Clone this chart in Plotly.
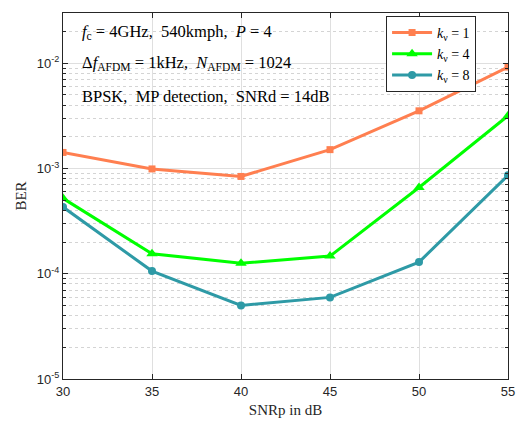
import plotly.graph_objects as go

snr = [30, 35, 40, 45, 50, 55]
ber_k1 = [1.42e-3, 9.9e-4, 8.4e-4, 1.51e-3, 3.53e-3, 9.2e-3]
ber_k4 = [5.2e-4, 1.55e-4, 1.26e-4, 1.47e-4, 6.6e-4, 3.17e-3]
ber_k8 = [4.3e-4, 1.06e-4, 5.0e-5, 5.96e-5, 1.29e-4, 8.6e-4]
series_names = ["<i>k</i><sub>ν</sub> = 1", "<i>k</i><sub>ν</sub> = 4", "<i>k</i><sub>ν</sub> = 8"]
colors = ["#FF7F50", "#00FF00", "#2E9AA6"]
symbols = ["square", "triangle-up", "circle"]
msizes = [7, 10, 8]

x_ticks = [30, 35, 40, 45, 50, 55]
y_major = [1e-5, 1e-4, 1e-3, 1e-2]
y_major_text = ["10<sup>-5</sup>", "10<sup>-4</sup>", "10<sup>-3</sup>", "10<sup>-2</sup>"]
y_minor = [m * 10.0**e for e in range(-5, -1) for m in range(2, 10) if m * 10.0**e <= 0.03]

annot_lines = [
    "<i>f</i><sub>c</sub> = 4GHz,  540kmph,  <i>P</i> = 4",
    "Δ<i>f</i><sub>AFDM</sub> = 1kHz,  <i>N</i><sub>AFDM</sub> = 1024",
    "BPSK,  MP detection,  SNRd = 14dB",
]

fig = go.Figure()
for ys, name, c, s, ms in zip([ber_k1, ber_k4, ber_k8], series_names, colors, symbols, msizes):
    fig.add_trace(go.Scatter(x=snr, y=ys, name=name, mode="lines+markers",
                             line=dict(color=c, width=3),
                             marker=dict(symbol=s, size=ms, color=c)))

axis_common = dict(showline=True, linecolor="#262626", linewidth=1, mirror="ticks",
                   ticks="inside", ticklen=5, tickcolor="#262626",
                   tickfont=dict(family="Liberation Sans, Arial", size=13, color="#262626"),
                   zeroline=False)

fig.update_xaxes(range=[30, 55], tickvals=x_ticks, showgrid=True, gridcolor="#DFDFDF", gridwidth=1,
                 title=dict(text="SNRp in dB", font=dict(family="Liberation Serif, Times New Roman", size=15, color="#262626"), standoff=6),
                 **axis_common)
fig.update_yaxes(type="log", range=[-5, -1.523], tickvals=y_major, ticktext=y_major_text,
                 showgrid=True, gridcolor="#DFDFDF", gridwidth=1,
                 minor=dict(tickvals=y_minor, ticks="inside", ticklen=3, tickcolor="#262626",
                            showgrid=True, gridcolor="#D4D4D4", griddash="dot", gridwidth=1),
                 title=dict(text="BER", font=dict(family="Liberation Serif, Times New Roman", size=15, color="#262626"), standoff=6),
                 **axis_common)

for txt, yp in zip(annot_lines, [0.948, 0.863, 0.773]):
    fig.add_annotation(text=txt, xref="paper", yref="paper", x=0.038, y=yp,
                       xanchor="left", yanchor="middle", showarrow=False,
                       font=dict(family="Liberation Serif, Times New Roman", size=16.5, color="#000000"))

fig.update_layout(
    width=523, height=424,
    margin=dict(l=63, r=8, t=13, b=45),
    paper_bgcolor="white", plot_bgcolor="white",
    showlegend=True,
    legend=dict(x=0.726, y=0.992, xanchor="left", yanchor="top",
                bgcolor="white", bordercolor="#262626", borderwidth=1,
                font=dict(family="Liberation Serif, Times New Roman", size=14, color="#000000"),
                itemwidth=40, tracegroupgap=0),
)

fig.write_html("out.html", config={"displayModeBar": False},
               post_script="document.body.style.margin='0';document.body.style.overflow='hidden';")
